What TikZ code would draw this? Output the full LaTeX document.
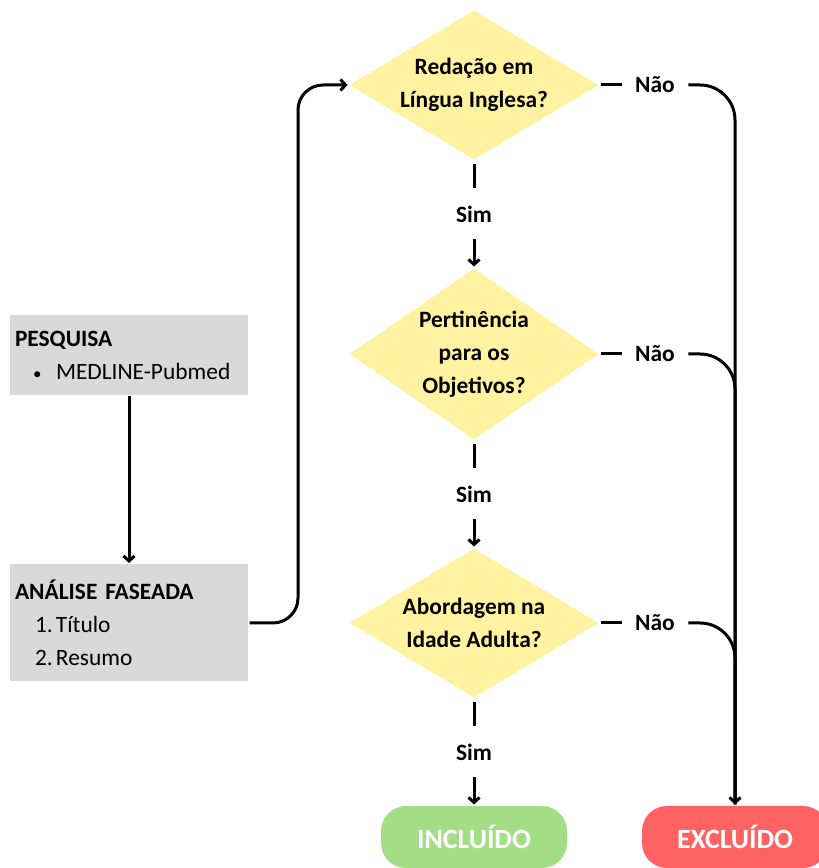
\documentclass[tikz,border=0pt]{standalone}
\usepackage{fontspec}
\setmainfont{Carlito}
\usetikzlibrary{shapes.geometric,arrows.meta}
\definecolor{boxgray}{RGB}{217,217,217}
\definecolor{qyellow}{RGB}{255,242,160}
\definecolor{okgreen}{RGB}{163,222,134}
\definecolor{nored}{RGB}{255,98,98}
\tikzset{
  stagebox/.style={fill=boxgray,rectangle,inner xsep=5bp,inner ysep=0bp,
    text width=228bp,align=left,minimum height=#1,
    font=\fontsize{23.5}{33}\selectfont},
  decision/.style={fill=qyellow,diamond,inner sep=0bp,minimum width=250bp,minimum height=#1},
  qtext/.style={align=center,font=\fontsize{23.5}{33}\selectfont\bfseries},
  answer/.style={inner xsep=12bp,inner ysep=0bp,minimum height=48bp,
    font=\fontsize{23.5}{27}\selectfont\bfseries},
  outcome/.style={fill=#1,rectangle,rounded corners=25bp,minimum width=186bp,
    minimum height=62bp,text=white,font=\fontsize{28}{32}\selectfont\bfseries},
}
\begin{document}
\begin{tikzpicture}[>={Straight Barb[length=5bp,width=11bp]},line join=round,line width=3bp]
%%
\useasboundingbox (0bp,0bp) rectangle (819bp,868bp);
\clip (0bp,0bp) rectangle (819bp,868bp);
\node (pesq) at (129bp,513bp) [stagebox=80bp] {\textbf{PESQUISA}\\\hspace*{18bp}\makebox[23bp][l]{\fontsize{17}{20}\selectfont•}MEDLINE-Pubmed};
  \node (anal) at (129bp,245bp) [stagebox=117bp] {\textbf{ANÁLISE FASEADA}\\\hspace*{20bp}\makebox[21bp][l]{1.}Título\\\hspace*{20bp}\makebox[21bp][l]{2.}Resumo};
  \node (d1) at (474bp,783bp) [decision=150bp] {};
  \node (d2) at (474bp,514bp) [decision=172bp] {};
  \node (d3) at (474bp,245bp) [decision=150bp] {};
  \node (d1_txt) at (d1) [qtext] {Redação em\\Língua Inglesa?};
  \node (d2_txt) at (d2) [qtext] {Pertinência\\para os\\Objetivos?};
  \node (d3_txt) at (d3) [qtext] {Abordagem na\\Idade Adulta?};
  \node (sim1) at (474bp,654bp) [answer] {Sim};
  \node (sim2) at (474bp,374bp) [answer] {Sim};
  \node (sim3) at (474bp,116bp) [answer] {Sim};
  \node (nao1) at (655bp,783bp) [answer] {Não};
  \node (nao2) at (655bp,514bp) [answer] {Não};
  \node (nao3) at (655bp,245bp) [answer] {Não};
  \node (incl) at (474bp,31bp) [outcome=okgreen] {INCLUÍDO};
  \node (excl) at (735bp,31bp) [outcome=nored] {EXCLUÍDO};
  \coordinate (bend) at (298bp,245bp);
  \draw [->] (pesq) -- (anal);
  \draw [->,rounded corners=25bp] (anal.east) -- (bend) |- (d1.west);
  \draw [shorten <=3bp] (d1.south) -- (sim1.north);
  \draw [->] (sim1.south) -- (d2.north);
  \draw [shorten <=3bp] (d2.south) -- (sim2.north);
  \draw [->] (sim2.south) -- (d3.north);
  \draw [shorten <=3bp] (d3.south) -- (sim3.north);
  \draw [->] (sim3.south) -- (incl.north);
  \draw (d1.east) -- (nao1.west);
  \draw (d2.east) -- (nao2.west);
  \draw (d3.east) -- (nao3.west);
  \draw [->,rounded corners=35bp] (nao1.east) -| (excl.north);
  \draw [rounded corners=35bp] (nao2.east) -| (excl.north);
  \draw [rounded corners=35bp] (nao3.east) -| (excl.north);
%
\end{tikzpicture}
\end{document}
